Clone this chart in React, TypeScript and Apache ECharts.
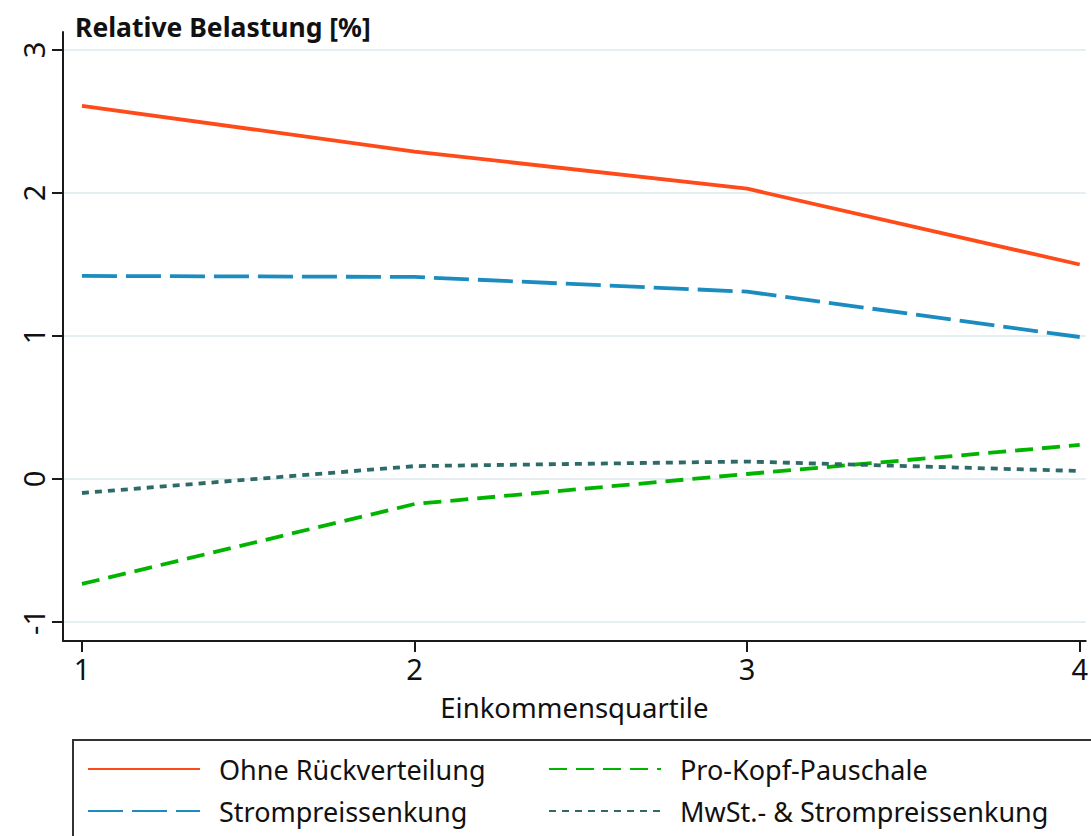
import React, { useEffect, useRef } from "react";
import * as echarts from "echarts";

const quartiles = [1, 2, 3, 4];
const ohneRueck = [2.61, 2.29, 2.03, 1.5];
const stromSenk = [1.42, 1.413, 1.31, 0.993];
const proKopf = [-0.734, -0.175, 0.035, 0.238];
const mwstStrom = [-0.098, 0.09, 0.122, 0.056];
const yTicks = [-1, 0, 1, 2, 3];
const xTicks = [1, 2, 3, 4];

const FONT = "Noto Sans";

function pairs(vals: number[]) {
  return quartiles.map((q, i) => [q, vals[i]]);
}

export default function App() {
  const ref = useRef<HTMLDivElement>(null);
  useEffect(() => {
    const chart = echarts.init(ref.current!, null, { renderer: "svg" });
    const lineBase = (name: string, vals: number[], color: string, type: any) => ({
      name,
      type: "line",
      data: pairs(vals),
      symbol: "none",
      showSymbol: false,
      color,
      lineStyle: { color, width: 3.8, type, cap: "butt" },
    });
    const legendCommon = {
      orient: "vertical",
      top: 754,
      padding: 0,
      itemWidth: 112,
      itemHeight: 14,
      itemGap: 12,
      itemStyle: { color: "rgba(0,0,0,0)", borderWidth: 0, opacity: 0 },
      textStyle: { fontSize: 27, color: "#111", lineHeight: 30, padding: [0, 0, 0, 14], fontFamily: FONT },
    };
    chart.setOption({
      animation: false,
      textStyle: { fontFamily: FONT },
      grid: { left: 63, top: 32, right: 0, bottom: 195 },
      xAxis: {
        type: "value",
        min: 0.943,
        max: 4.018,
        name: "Einkommensquartile",
        nameLocation: "middle",
        nameGap: 52,
        nameTextStyle: { fontSize: 27.5, color: "#111", fontFamily: FONT },
        axisLine: { show: true, onZero: false, lineStyle: { color: "#1a1a1a", width: 2 } },
        axisTick: { show: true, length: 11, customValues: xTicks, lineStyle: { color: "#1a1a1a", width: 2 } },
        axisLabel: {
          customValues: xTicks,
          fontSize: 29,
          color: "#111",
          margin: 13,
          fontFamily: FONT,
          alignMinLabel: "center",
          alignMaxLabel: "center",
        },
        splitLine: { show: false },
      },
      yAxis: {
        type: "value",
        min: -1.133,
        max: 3.126,
        axisLine: { show: true, onZero: false, lineStyle: { color: "#1a1a1a", width: 2 } },
        axisTick: { show: true, length: 11, customValues: yTicks, lineStyle: { color: "#1a1a1a", width: 2 } },
        axisLabel: { customValues: yTicks, fontSize: 29, color: "#111", rotate: 90, margin: 15, fontFamily: FONT },
        splitLine: { show: true, lineStyle: { color: "#e6eef1", width: 2 } },
      },
      legend: [
        { ...legendCommon, data: ["Ohne Rückverteilung", "Strompreissenkung"], left: 87 },
        { ...legendCommon, data: ["Pro-Kopf-Pauschale", "MwSt.- & Strompreissenkung"], left: 548 },
      ],
      graphic: [
        {
          type: "rect",
          shape: { x: 73, y: 740, width: 1100, height: 200 },
          style: { fill: "none", stroke: "#333", lineWidth: 2 },
          silent: true,
        },
        {
          type: "text",
          left: 75,
          top: 13,
          style: {
            text: "Relative Belastung [%]",
            fontSize: 26.5,
            fontWeight: "bold",
            fill: "#111",
            fontFamily: FONT,
          },
        },
      ],
      series: [
        lineBase("Ohne Rückverteilung", ohneRueck, "#ff4a1a", "solid"),
        lineBase("Strompreissenkung", stromSenk, "#1a8cc0", [35, 9]),
        lineBase("Pro-Kopf-Pauschale", proKopf, "#00b400", [18, 9]),
        lineBase("MwSt.- & Strompreissenkung", mwstStrom, "#2e6b68", [7, 6]),
      ],
    });
    return () => chart.dispose();
  }, []);
  return (
    <div
      ref={ref}
      style={{ position: "absolute", left: 0, top: 0, width: 1091, height: 836 }}
    />
  );
}
